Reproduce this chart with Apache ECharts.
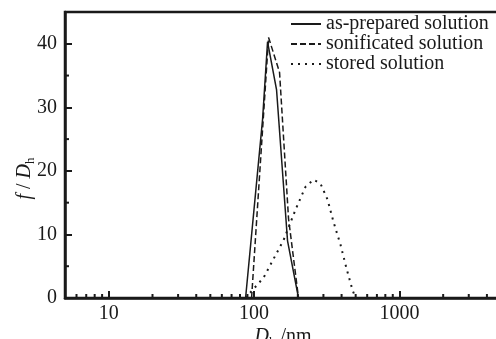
<!DOCTYPE html>
<html><head><meta charset="utf-8">
<script src="https://cdn.jsdelivr.net/npm/echarts@6/dist/echarts.min.js"></script>
<style>html,body{margin:0;padding:0;background:#fff}#c{width:496px;height:339px}</style>
</head><body><div id="c"></div>
<script>
// Data (D_h in nm, f/D_h)
const asPreparedX = [87.4, 114.4, 123.8, 142.7, 169.9, 202.2];
const asPreparedY = [0, 28.1, 40.3, 32.8, 9.0, 0];
const sonificatedX = [96.1, 125.8, 149.7, 172.6, 202.2];
const sonificatedY = [0, 41.0, 35.5, 12.5, 0];
const storedX = [87.4, 116.2, 159.5, 192.8, 225.9, 256.5, 286.4, 320, 351.7, 393, 432, 475, 498.5];
const storedY = [0, 3.2, 9.1, 13.9, 17.5, 18.6, 18.0, 15.5, 12.0, 8.4, 4.7, 1.3, 0];
const seriesNames = ['as-prepared solution', 'sonificated solution', 'stored solution'];
const xMajorLabels = [10, 100, 1000];
const xMinorTicks = [6, 7, 8, 9, 20, 30, 40, 50, 60, 70, 80, 90, 200, 300, 400, 500, 600, 700, 800, 900, 2000, 3000, 4000];
const yMinorTicks = [5, 15, 25, 35];
const xMin = 5, xMax = 5000, yMin = 0, yMax = 45, yStep = 10;

const zip = (xs, ys) => xs.map((x, i) => [x, ys[i]]);
const ink = '#1a1a1a';
const font = 'Liberation Serif';

const chart = echarts.init(document.getElementById('c'), null, {renderer: 'canvas'});
chart.setOption({
  animation: false,
  backgroundColor: '#fff',
  textStyle: {fontFamily: font, color: ink},
  grid: {left: 65, top: 12, right: -5, bottom: 41, containLabel: false, outerBoundsMode: 'none',
         show: true, borderColor: ink, borderWidth: 2.5, backgroundColor: 'transparent'},
  legend: {
    data: seriesNames, orient: 'vertical', left: 290, top: 14, padding: 0, itemGap: 0,
    itemWidth: 30, itemHeight: 20,
    itemStyle: {opacity: 0},
    textStyle: {fontFamily: font, fontSize: 20, color: ink, lineHeight: 20}
  },
  xAxis: {
    type: 'log', logBase: 10, min: xMin, max: xMax,
    axisLine: {lineStyle: {color: ink, width: 2.5}},
    axisTick: {inside: true, length: 7, lineStyle: {color: ink, width: 2}},
    splitLine: {show: false},
    axisLabel: {
      margin: 6, fontFamily: font, fontSize: 20, color: ink,
      formatter: v => (xMajorLabels.indexOf(Math.round(v)) >= 0 ? String(Math.round(v)) : '')
    },
    name: '{i|D}{s|h} /nm', nameLocation: 'middle', nameGap: 27, nameMoveOverlap: false,
    nameTextStyle: {
      fontFamily: font, fontSize: 20, color: ink, lineHeight: 24,
      rich: {
        i: {fontFamily: font, fontStyle: 'italic', fontSize: 20, color: ink, lineHeight: 24},
        s: {fontFamily: font, fontSize: 13, color: ink, lineHeight: 12, verticalAlign: 'bottom'}
      }
    }
  },
  yAxis: {
    type: 'value', min: yMin, max: yMax, interval: yStep,
    axisLine: {show: true, lineStyle: {color: ink, width: 2.5}},
    axisTick: {inside: true, length: 7, lineStyle: {color: ink, width: 2}},
    splitLine: {show: false},
    axisLabel: {
      margin: 8, fontFamily: font, fontSize: 20, color: ink,
      formatter: v => (v % yStep === 0 ? String(v) : '')
    },
    name: '{i|f} / {i|D}{s|h}', nameLocation: 'middle', nameGap: 28, nameMoveOverlap: false,
    nameTextStyle: {
      fontFamily: font, fontSize: 20, color: ink, lineHeight: 24, padding: [0, 47, 0, 0],
      rich: {
        i: {fontFamily: font, fontStyle: 'italic', fontSize: 20, color: ink, lineHeight: 24},
        s: {fontFamily: font, fontSize: 13, color: ink, lineHeight: 12, verticalAlign: 'bottom'}
      }
    }
  },
  series: [
    {name: seriesNames[0], type: 'line', data: zip(asPreparedX, asPreparedY), showSymbol: false, symbol: 'none',
     lineStyle: {color: ink, width: 1.5, type: 'solid'}, itemStyle: {color: ink}},
    {name: seriesNames[1], type: 'line', data: zip(sonificatedX, sonificatedY), showSymbol: false, symbol: 'none',
     lineStyle: {color: ink, width: 1.5, type: [6, 3]}, itemStyle: {color: ink}},
    {name: seriesNames[2], type: 'line', data: zip(storedX, storedY), showSymbol: false, symbol: 'none',
     lineStyle: {color: ink, width: 2, type: [2, 5]}, itemStyle: {color: ink}},
    {type: 'custom', silent: true, data: xMinorTicks.map(v => [v, yMin]), clip: false,
     renderItem: (params, api) => {
       const p = api.coord([api.value(0), api.value(1)]);
       return {type: 'line', shape: {x1: p[0], y1: p[1], x2: p[0], y2: p[1] - 4}, style: {stroke: ink, lineWidth: 2}};
     }},
    {type: 'custom', silent: true, data: yMinorTicks.map(v => [xMin, v]), clip: false,
     renderItem: (params, api) => {
       const p = api.coord([api.value(0), api.value(1)]);
       return {type: 'line', shape: {x1: p[0], y1: p[1], x2: p[0] + 4, y2: p[1]}, style: {stroke: ink, lineWidth: 2}};
     }}
  ]
});
</script></body></html>
